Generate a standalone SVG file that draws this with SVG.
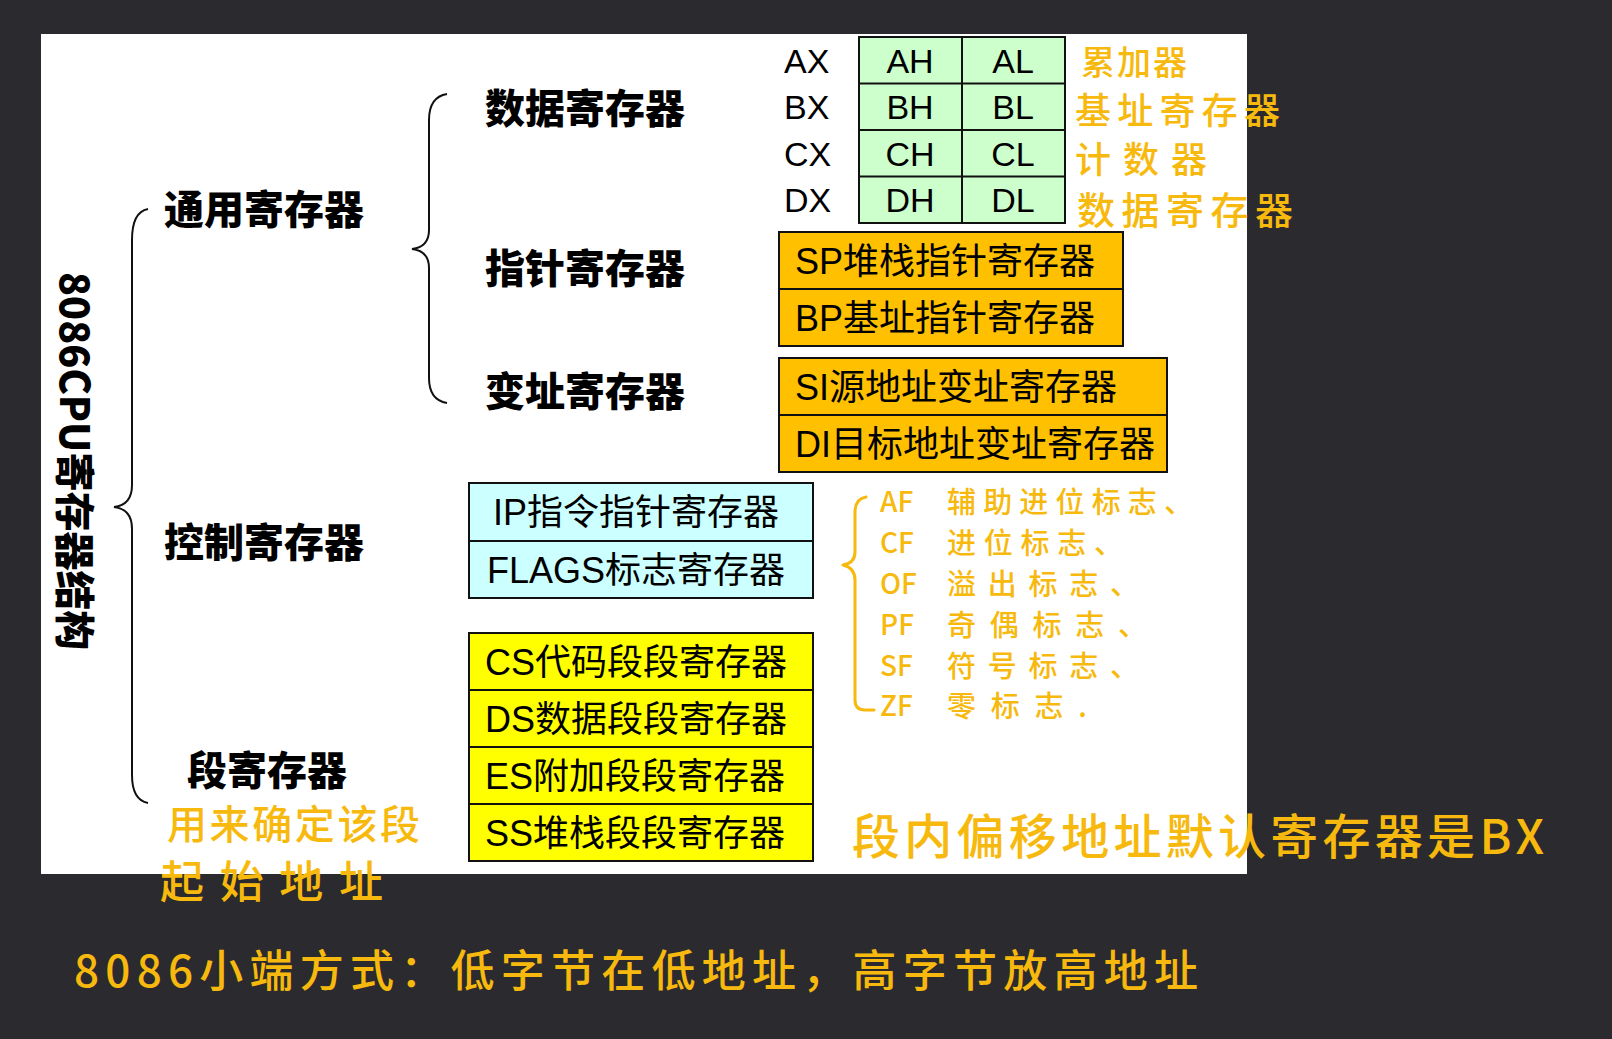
<svg xmlns="http://www.w3.org/2000/svg" width="1612" height="1039" viewBox="0 0 1612 1039">
<style>
.cat{font-family:"Noto Sans CJK SC","Liberation Sans",sans-serif;font-weight:900;font-size:40px;fill:#000;dominant-baseline:central}
.reg{font-family:"Liberation Sans","Noto Sans CJK SC",sans-serif;font-size:36px;fill:#000;dominant-baseline:central}
.lbl{font-family:"Liberation Sans","Noto Sans CJK SC",sans-serif;font-size:34px;fill:#000;dominant-baseline:central}
.cell{font-family:"Liberation Sans","Noto Sans CJK SC",sans-serif;font-size:34px;fill:#000;dominant-baseline:central;text-anchor:middle}
.hw{font-family:"Noto Sans CJK SC","Liberation Sans",sans-serif;font-weight:500;fill:#f7b90d;dominant-baseline:central}
.box{stroke:#111;stroke-width:2}
.brace{fill:none;stroke:#111;stroke-width:2}
.hbrace{fill:none;stroke:#f7b90d;stroke-width:3;stroke-linecap:round;stroke-linejoin:round}
</style>
<rect x="0" y="0" width="1612" height="1039" fill="#2b2b2f"/>
<rect x="41" y="34" width="1206" height="840" fill="#ffffff"/>

<g id="connectors">
<path class="brace" d="M148,209 Q132,212 132,240 L132,485 Q132,505 114,507 Q132,509 132,529 L132,775 Q132,800 148,803"/>
<path class="brace" d="M447,94 Q429,97 429,120 L429,230 Q429,247 412,249 Q429,251 429,268 L429,378 Q429,400 447,403"/>
<path class="hbrace" d="M866,497 Q855,499 855,512 L855,552 Q855,563 843,565 Q855,568 855,580 L855,700 Q855,710 865,710 L874,710"/>
</g>

<g id="title">
<text transform="rotate(90 77 461)" x="77" y="461" text-anchor="middle" class="cat" textLength="378" lengthAdjust="spacingAndGlyphs">8086CPU寄存器结构</text>
</g>

<g id="cat-general"><text class="cat" x="164" y="207" textLength="200">通用寄存器</text></g>
<g id="cat-data"><text class="cat" x="485" y="106" textLength="200">数据寄存器</text></g>
<g id="cat-pointer"><text class="cat" x="485" y="266" textLength="200">指针寄存器</text></g>
<g id="cat-index"><text class="cat" x="485" y="389" textLength="200">变址寄存器</text></g>
<g id="cat-control"><text class="cat" x="164" y="540" textLength="200">控制寄存器</text></g>
<g id="cat-segment"><text class="cat" x="187" y="768" textLength="160">段寄存器</text></g>

<g id="data-table">
<rect class="box" x="859" y="37" width="206" height="186" fill="#ccffcc"/>
<line class="box" x1="962" y1="37" x2="962" y2="223"/>
<line class="box" x1="859" y1="83.5" x2="1065" y2="83.5"/>
<line class="box" x1="859" y1="130" x2="1065" y2="130"/>
<line class="box" x1="859" y1="176.5" x2="1065" y2="176.5"/>
<text class="lbl" x="784" y="61">AX</text>
<text class="lbl" x="784" y="107">BX</text>
<text class="lbl" x="784" y="154">CX</text>
<text class="lbl" x="784" y="200">DX</text>
<text class="cell" x="910" y="61">AH</text>
<text class="cell" x="1013" y="61">AL</text>
<text class="cell" x="910" y="107">BH</text>
<text class="cell" x="1013" y="107">BL</text>
<text class="cell" x="910" y="154">CH</text>
<text class="cell" x="1013" y="154">CL</text>
<text class="cell" x="910" y="200">DH</text>
<text class="cell" x="1013" y="200">DL</text>
</g>

<g id="pointer-regs">
<rect class="box" x="779" y="232" width="344" height="57" fill="#ffc000"/>
<rect class="box" x="779" y="289" width="344" height="57" fill="#ffc000"/>
<text class="reg" x="795" y="261">SP堆栈指针寄存器</text>
<text class="reg" x="795" y="318">BP基址指针寄存器</text>
</g>

<g id="index-regs">
<rect class="box" x="779" y="358" width="388" height="57" fill="#ffc000"/>
<rect class="box" x="779" y="415" width="388" height="57" fill="#ffc000"/>
<text class="reg" x="795" y="387">SI源地址变址寄存器</text>
<text class="reg" x="795" y="444">DI目标地址变址寄存器</text>
</g>

<g id="control-regs">
<rect class="box" x="469" y="483" width="344" height="58" fill="#ccffff"/>
<rect class="box" x="469" y="541" width="344" height="57" fill="#ccffff"/>
<text class="reg" x="493" y="512">IP指令指针寄存器</text>
<text class="reg" x="487" y="570">FLAGS标志寄存器</text>
</g>

<g id="segment-regs">
<rect class="box" x="469" y="633" width="344" height="57" fill="#ffff00"/>
<rect class="box" x="469" y="690" width="344" height="57" fill="#ffff00"/>
<rect class="box" x="469" y="747" width="344" height="57" fill="#ffff00"/>
<rect class="box" x="469" y="804" width="344" height="57" fill="#ffff00"/>
<text class="reg" x="485" y="662">CS代码段段寄存器</text>
<text class="reg" x="485" y="719">DS数据段段寄存器</text>
<text class="reg" x="485" y="776">ES附加段段寄存器</text>
<text class="reg" x="485" y="833">SS堆栈段段寄存器</text>
</g>

<g id="notes-data">
<text class="hw" x="1081" y="60" font-size="34" textLength="106">累加器</text>
<text class="hw" x="1075" y="108" font-size="36" textLength="205">基址寄存器</text>
<text class="hw" x="1075" y="157" font-size="36" textLength="132">计数器</text>
<text class="hw" x="1077" y="207" font-size="38" textLength="216">数据寄存器</text>
</g>

<g id="notes-flags">
<text class="hw" x="880" y="500" font-size="28">AF</text>
<text class="hw" x="947" y="500" font-size="29" textLength="246">辅助进位标志、</text>
<text class="hw" x="880" y="541" font-size="28">CF</text>
<text class="hw" x="947" y="541" font-size="29" textLength="176">进位标志、</text>
<text class="hw" x="880" y="582" font-size="28">OF</text>
<text class="hw" x="947" y="582" font-size="29" textLength="192">溢出标志、</text>
<text class="hw" x="880" y="623" font-size="28">PF</text>
<text class="hw" x="947" y="623" font-size="29" textLength="200">奇偶标志、</text>
<text class="hw" x="880" y="664" font-size="28">SF</text>
<text class="hw" x="947" y="664" font-size="29" textLength="192">符号标志、</text>
<text class="hw" x="880" y="704" font-size="28">ZF</text>
<text class="hw" x="947" y="704" font-size="29" textLength="140">零标志.</text>
</g>

<g id="notes-segment">
<text class="hw" x="167" y="822" font-size="40" textLength="253">用来确定该段</text>
<text class="hw" x="160" y="879" font-size="44" textLength="223">起始地址</text>
<text class="hw" x="852" y="833" font-size="48" textLength="692">段内偏移地址默认寄存器是BX</text>
</g>

<g id="notes-endian">
<text class="hw" x="74" y="968" font-size="44" textLength="1124">8086小端方式：低字节在低地址，高字节放高地址</text>
</g>
</svg>
